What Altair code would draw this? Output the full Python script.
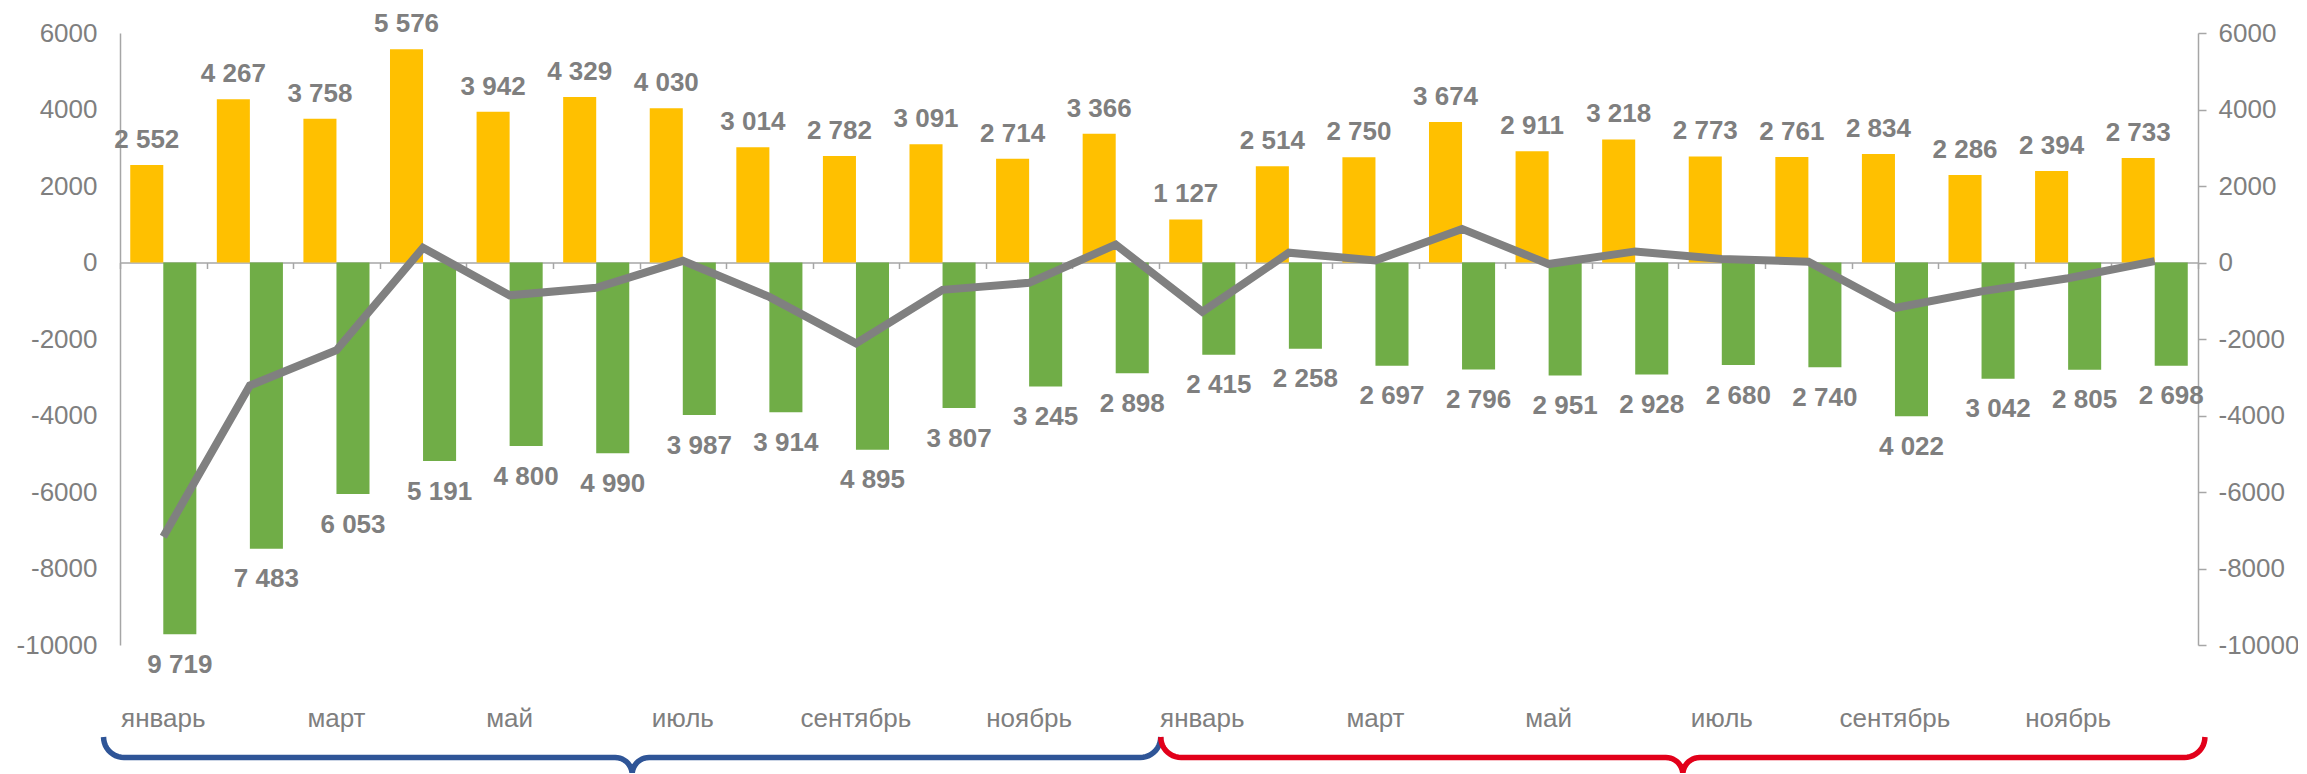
import altair as alt
import pandas as pd
import numpy as np

# ---------------- data ----------------
months = ["январь", "февраль", "март", "апрель", "май", "июнь",
          "июль", "август", "сентябрь", "октябрь", "ноябрь", "декабрь"]
shown_months = ["январь", "март", "май", "июль", "сентябрь", "ноябрь"]
exports_y1 = [2552, 4267, 3758, 5576, 3942, 4329, 4030, 3014, 2782, 3091, 2714, 3366]
exports_y2 = [1127, 2514, 2750, 3674, 2911, 3218, 2773, 2761, 2834, 2286, 2394, 2733]
imports_y1 = [9719, 7483, 6053, 5191, 4800, 4990, 3987, 3914, 4895, 3807, 3245, 2898]
imports_y2 = [2415, 2258, 2697, 2796, 2951, 2928, 2680, 2740, 4022, 3042, 2805, 2698]
y_ticks = [-10000, -8000, -6000, -4000, -2000, 0, 2000, 4000, 6000]

# ---------------- styling ----------------
W, H = 2078, 612
FONT = "Liberation Sans, Arial, sans-serif"
GRAY = "#7f7f7f"
AXIS_GRAY = "#a6a6a6"
YEL, GRN = "#FFC000", "#70AD47"
BLUE, RED = "#2F5597", "#E2001A"

exports = exports_y1 + exports_y2
imports = imports_y1 + imports_y2
mnames = months + months
n = len(exports)
idx = [f"{i:02d}" for i in range(n)]


def fmt(v):
    return f"{abs(v):,}".replace(",", " ")


rows = []
for i in range(n):
    rows.append({"idx": idx[i], "series": "pos", "value": exports[i], "label": fmt(exports[i])})
    rows.append({"idx": idx[i], "series": "neg", "value": -imports[i], "label": fmt(imports[i])})
bars_df = pd.DataFrame(rows)
net_df = pd.DataFrame({"idx": idx, "net": [e - m for e, m in zip(exports, imports)]})
month_df = pd.DataFrame({"idx": idx, "month": mnames})
month_df = month_df[month_df["month"].isin(shown_months)]

# ---------------- scales ----------------
xscale = alt.Scale(type="band", domain=idx, paddingInner=0, paddingOuter=0)
offscale = alt.Scale(domain=["pos", "neg"], paddingInner=0, paddingOuter=0.31)
yscale = alt.Scale(domain=[y_ticks[0], y_ticks[-1]], nice=False)
zero_px = H * y_ticks[-1] / (y_ticks[-1] - y_ticks[0])

x_axis = alt.Axis(title=None, labels=False, orient="bottom", offset=zero_px - H,
                  domainColor=AXIS_GRAY, domainWidth=1.5, tickColor=AXIS_GRAY,
                  tickWidth=1.5, tickSize=6, tickBand="extent", zindex=0)
left_axis = alt.Axis(title=None, orient="left", values=y_ticks, labelExpr="'' + datum.value",
                     ticks=False, tickSize=0, labelPadding=23, labelFont=FONT, labelFontSize=26,
                     labelColor=GRAY, domainColor=AXIS_GRAY, domainWidth=1.5, grid=False, zindex=0)
right_axis = alt.Axis(title=None, orient="right", values=y_ticks, labelExpr="'' + datum.value",
                      ticks=True, tickSize=8, tickColor=AXIS_GRAY, tickWidth=1.5, labelPadding=12,
                      labelFont=FONT, labelFontSize=26, labelColor=GRAY,
                      domainColor=AXIS_GRAY, domainWidth=1.5, grid=False, zindex=0)

bars = alt.Chart(bars_df).mark_bar().encode(
    x=alt.X("idx:O", scale=xscale, axis=x_axis),
    xOffset=alt.XOffset("series:N", scale=offscale),
    y=alt.Y("value:Q", scale=yscale, axis=left_axis),
    color=alt.Color("series:N", scale=alt.Scale(domain=["pos", "neg"], range=[YEL, GRN]), legend=None),
)

pos_text = alt.Chart(bars_df[bars_df.series == "pos"]).mark_text(
    font=FONT, fontSize=26, fontWeight="bold", color=GRAY, baseline="alphabetic", dy=-17
).encode(
    x=alt.X("idx:O", scale=xscale, axis=None),
    xOffset=alt.XOffset("series:N", scale=offscale),
    y=alt.Y("value:Q", scale=yscale, axis=None),
    text="label:N",
)
neg_text = alt.Chart(bars_df[bars_df.series == "neg"]).mark_text(
    font=FONT, fontSize=26, fontWeight="bold", color=GRAY, baseline="alphabetic", dy=38.5
).encode(
    x=alt.X("idx:O", scale=xscale, axis=None),
    xOffset=alt.XOffset("series:N", scale=offscale),
    y=alt.Y("value:Q", scale=yscale, axis=None),
    text="label:N",
)

line = alt.Chart(net_df).mark_line(color="#808080", strokeWidth=8).encode(
    x=alt.X("idx:O", scale=xscale, axis=None),
    y=alt.Y("net:Q", scale=yscale, axis=right_axis),
)

month_text = alt.Chart(month_df).mark_text(
    font=FONT, fontSize=26, color=GRAY, baseline="alphabetic"
).encode(
    x=alt.X("idx:O", scale=xscale, axis=None),
    y=alt.value(694),
    text="month:N",
)

# ---------------- braces (decoration under each year) ----------------
unit = W / n
y_top, y_mid, r_end, r_tip = 704, 724.5, 20.5, 17
t = np.linspace(0, np.pi / 2, 12)


def brace(x0, x1):
    xs, ys = [], []
    xt = (x0 + x1) / 2
    re, rt = r_end / unit, r_tip / unit
    # left hook
    xs += list(x0 + re - re * np.cos(t)); ys += list(y_top + r_end * np.sin(t))
    # into tip (left)
    xs += list(xt - rt + rt * np.sin(t)); ys += list(y_mid + r_tip - r_tip * np.cos(t))
    # out of tip (right)
    xs += list(xt + rt - rt * np.cos(t)); ys += list(y_mid + r_tip - r_tip * np.sin(t))
    # right hook
    xs += list(x1 - re + re * np.sin(t)); ys += list(y_top + r_end * np.cos(t))
    return pd.DataFrame({"bx": xs, "by": ys, "ord": range(len(xs))})


def brace_chart(df, color):
    return alt.Chart(df).mark_line(color=color, strokeWidth=5.5, strokeCap="butt").encode(
        x=alt.X("bx:Q", scale=alt.Scale(domain=[0, n], nice=False, zero=False), axis=None),
        y=alt.Y("by:Q", scale=None, axis=None),
        order="ord:Q",
    )


brace_blue = brace_chart(brace(-0.19, 12.02), BLUE)
brace_red = brace_chart(brace(12.02, 24.08), RED)

chart = alt.layer(bars, pos_text, neg_text, line, month_text, brace_blue, brace_red).resolve_scale(
    x="independent", y="independent"
).properties(
    width=W, height=H,
    autosize=alt.AutoSizeParams(type="none"),
    padding={"left": 112, "top": 25, "right": 100, "bottom": 128},
    background="white",
).configure_view(stroke=None)

chart.save("out.html", embed_options={"renderer": "svg", "actions": False})
